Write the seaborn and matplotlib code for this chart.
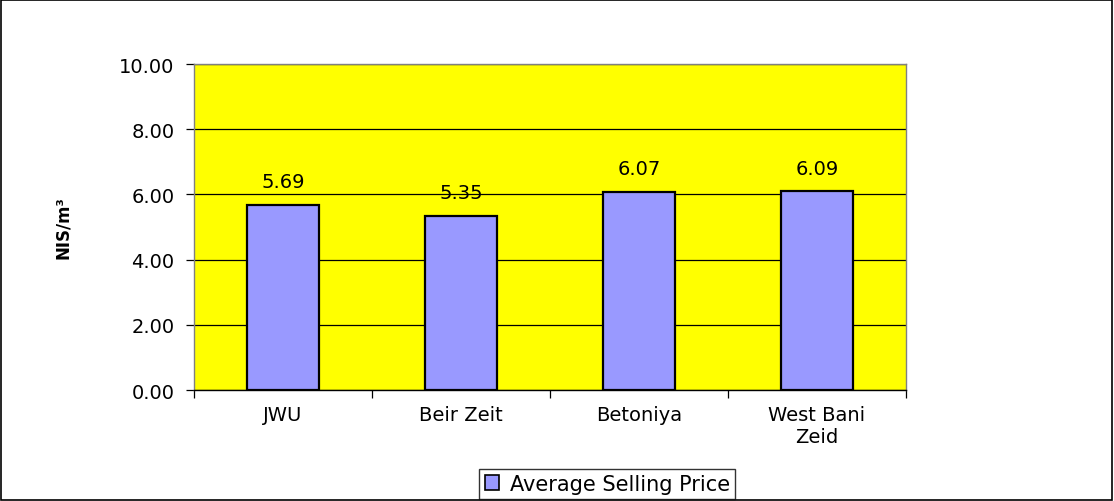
"""
Average selling price per site, bar chart.
"""

import pandas as pd
import matplotlib.pyplot as plt
import matplotlib.patches as mpatches
import seaborn as sns

sites  = ["JWU", "Beir Zeit", "Betoniya", "West Bani\nZeid"]
prices = [5.69, 5.35, 6.07, 6.09]
series_name = "Average Selling Price"
y_label = "NIS/m³"
y_ticks = [0, 2, 4, 6, 8, 10]

sns.set_theme(style="white")
plt.rcParams["font.family"] = ["DejaVu Sans"]
plt.rcParams["text.color"] = "black"
plt.rcParams["xtick.color"] = "black"
plt.rcParams["ytick.color"] = "black"
plt.rcParams["axes.labelcolor"] = "black"

BAR_COLOR = "#9999FF"
BG_COLOR  = "#FFFF00"

df = pd.DataFrame({"Site": sites, "Price": prices})

fig = plt.figure(figsize=(11.14, 5.02), dpi=100)
ax = fig.add_axes([0.1741, 0.2211, 0.6391, 0.6494])
ax.set_facecolor(BG_COLOR)

sns.barplot(data=df, x="Site", y="Price", color=BAR_COLOR, width=0.40,
            edgecolor="black", linewidth=1.6, saturation=1, ax=ax, zorder=3)

for i, v in enumerate(prices):
    ax.annotate(f"{v:.2f}", (i, v), xytext=(0, 10), textcoords="offset points",
                ha="center", va="bottom", fontsize=14, color="black")

ax.set_ylim(0, 10)
ax.set_xlim(-0.5, len(sites) - 0.5)
ax.set_yticks(y_ticks)
ax.set_yticklabels([f"{t:.2f}" for t in y_ticks], fontsize=14)
ax.yaxis.grid(True, color="black", linewidth=0.9, zorder=1)
ax.set_axisbelow(True)

# category labels centred, tick marks on category boundaries
ax.set_xticks(range(len(sites)))
ax.set_xticklabels(sites, fontsize=14, linespacing=1.15)
ax.tick_params(axis="x", length=0, pad=11)
ax.set_xticks([i - 0.5 for i in range(len(sites) + 1)], minor=True)
ax.tick_params(axis="x", which="minor", direction="out", length=6, width=0.9,
               color="black", bottom=True)
ax.tick_params(axis="y", direction="out", length=6, width=0.9, color="black",
               left=True, pad=8)

ax.set_xlabel("")
ax.set_ylabel(y_label, fontsize=12, fontweight="bold", labelpad=34)

for side in ["top", "right", "left"]:
    ax.spines[side].set_color("#808080")
    ax.spines[side].set_linewidth(1.0)
ax.spines["bottom"].set_color("black")
ax.spines["bottom"].set_linewidth(1.0)

handle = mpatches.Patch(facecolor=BAR_COLOR, edgecolor="black", linewidth=1.2,
                        label=series_name)
leg = fig.legend(handles=[handle], loc="lower center", bbox_to_anchor=(0.545, 0.0),
                 fontsize=15, frameon=True, fancybox=False, handlelength=0.7,
                 handleheight=0.7, borderpad=0.25, handletextpad=0.5,
                 borderaxespad=0.1)
leg.get_frame().set_edgecolor("black")
leg.get_frame().set_linewidth(1.0)

fig.patches.append(mpatches.Rectangle((0.0005, 0.001), 0.998, 0.997,
                                      transform=fig.transFigure, fill=False,
                                      edgecolor="black", linewidth=1.2))

fig.savefig("out.png", dpi=100, facecolor="white")
plt.close(fig)
